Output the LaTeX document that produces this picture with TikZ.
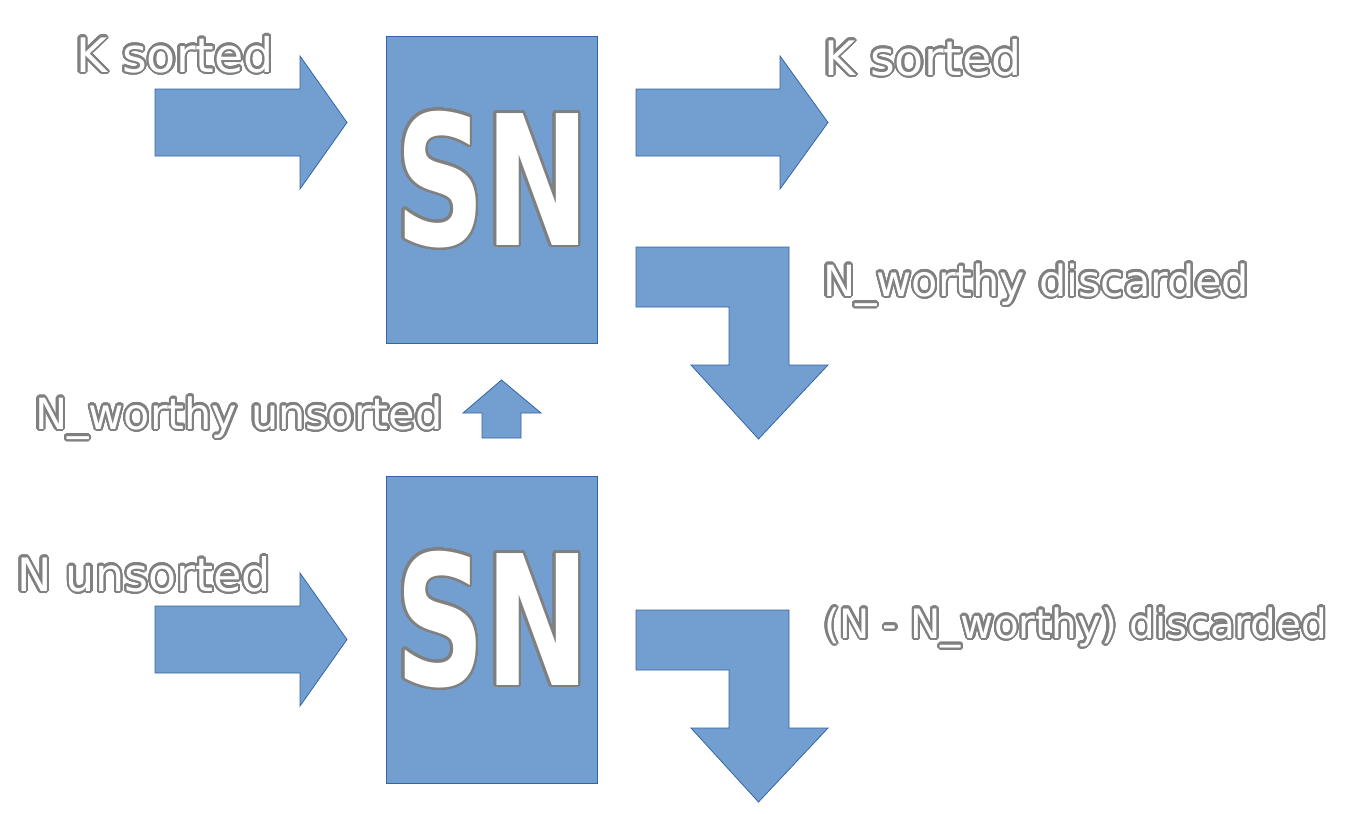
\documentclass[tikz,border=0pt]{standalone}
\usepackage{fontspec}
\newfontfamily\lab{DejaVu Sans}
\newfontfamily\snfont{DejaVu Sans}
\usepackage{contour}
\contournumber{40}
\definecolor{fillb}{HTML}{729FCF}
\definecolor{lineb}{HTML}{3465A4}
\definecolor{outl}{HTML}{808080}
\tikzset{
  blk/.style={fill=fillb, draw=lineb, line width=0.8pt},
  box/.style={blk, minimum width=211pt, minimum height=307pt, inner sep=0pt},
  lbl/.style={anchor=base west, inner sep=0pt, outer sep=0pt, text=white, font=\lab\fontsize{43}{50}\selectfont},
  big/.style={lbl, font=\lab\fontsize{47.5}{52}\selectfont},
  mid/.style={lbl, font=\lab\fontsize{46}{52}\selectfont},
  small/.style={lbl, font=\lab\fontsize{40.5}{46}\selectfont},
  sn/.style={anchor=base, inner sep=0pt, text=white, font=\snfont\bfseries\fontsize{181}{190}\selectfont}
}
\newcommand{\olt}[1]{\contourlength{2.1pt}\contour{outl}{#1}}
\newcommand{\olsn}[1]{\contourlength{2.6pt}\contour{outl}{\scalebox{0.69}[1]{#1}}}
\begin{document}
\begin{tikzpicture}[x=1pt,y=-1pt]
\useasboundingbox (0,0) rectangle (1350,814);
% SN boxes
\node[box] (sn1) at (491.5,189.5) {};
\node[box] (sn2) at (491.5,629.5) {};
\node[sn] (sn1t) at (492.5,245) {\olsn{SN}};
\node[sn] (sn2t) at (492.5,685) {\olsn{SN}};
% right arrows
\draw[blk] (155,89) -- (300,89) -- (300,56) -- (347,122.5) -- (300,189) -- (300,156) -- (155,156) -- cycle;
\draw[blk] (636,89) -- (780,89) -- (780,56) -- (828,122.5) -- (780,189) -- (780,156) -- (636,156) -- cycle;
\draw[blk] (155,606) -- (300,606) -- (300,573) -- (347,639.5) -- (300,706) -- (300,673) -- (155,673) -- cycle;
% bent arrows
\draw[blk] (636,247) -- (789,247) -- (789,365) -- (828,365) -- (758.5,439) -- (691,365) -- (729,365) -- (729,307) -- (636,307) -- cycle;
\draw[blk] (636,610) -- (789,610) -- (789,728) -- (828,728) -- (758.5,802) -- (691,728) -- (729,728) -- (729,670) -- (636,670) -- cycle;
% up arrow
\draw[blk] (482,438) -- (482,413) -- (463,413) -- (501.5,380) -- (541,413) -- (521,413) -- (521,438) -- cycle;
% labels
\node[big] (l1) at (76,72) {\olt{K sorted}};
\node[big] (l2) at (824,75) {\olt{K sorted}};
\node[lbl] (l3) at (823,296) {\olt{N\_worthy discarded}};
\node[lbl] (l4) at (35,429) {\olt{N\_worthy unsorted}};
\node[mid] (l5) at (17,591) {\olt{N unsorted}};
\node[small] (l6) at (824,638) {\olt{(N - N\_worthy) discarded}};
\end{tikzpicture}
\end{document}
